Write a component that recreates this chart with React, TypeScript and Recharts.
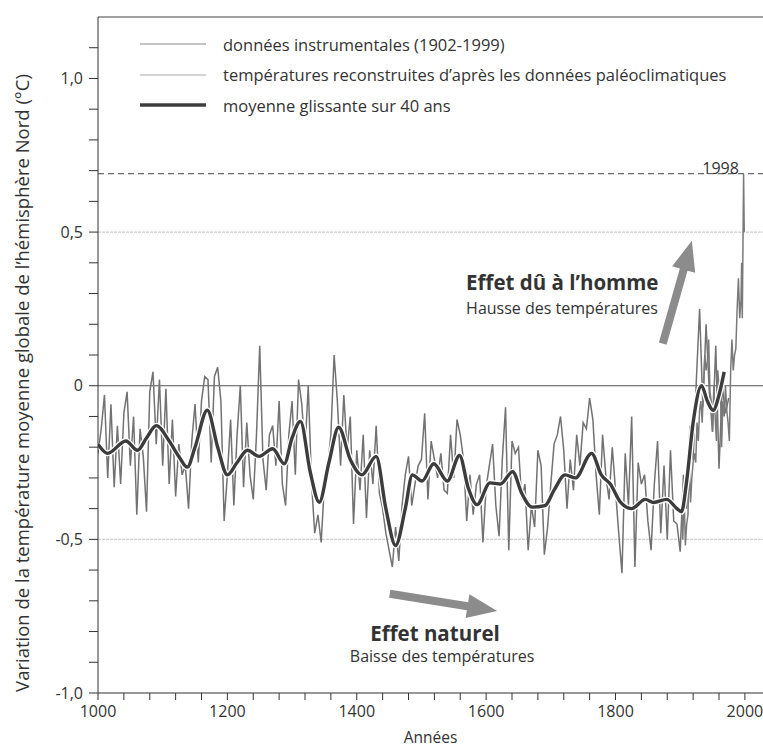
import { LineChart, Line, XAxis, YAxis, ReferenceLine, ReferenceDot } from 'recharts'

// reconstructed temperatures, one reading every 5 years from 1000
const reconStart = 1000
const reconStep = 5
const reconValues = [
	-0.22, -0.14, -0.03, -0.3, -0.06, -0.33, -0.13, -0.32, -0.09, -0.02,
	-0.26, -0.1, -0.42, -0.14, -0.23, -0.41, -0.02, 0.045, -0.19, 0.02,
	-0.26, -0.01, -0.32, -0.11, -0.36, -0.19, -0.29, -0.26, -0.4, -0.18,
	-0.06, -0.25, -0.05, 0.03, 0.02, -0.25, 0.03, 0.06, -0.05, -0.44,
	-0.29, -0.11, -0.39, -0.16, 0.0, -0.33, -0.12, -0.29, -0.37, -0.16,
	0.13, -0.24, -0.34, -0.16, -0.13, -0.26, -0.05, -0.32, -0.39, -0.16,
	-0.05, -0.29, 0.02, -0.06, -0.21, 0.0, -0.31, -0.48, -0.42, -0.51,
	-0.32, -0.26, -0.16, 0.1, -0.05, -0.26, -0.03, -0.21, -0.1, -0.45,
	-0.21, -0.34, -0.16, -0.43, -0.21, -0.32, -0.13, -0.35, -0.4, -0.48,
	-0.535, -0.59, -0.46, -0.57, -0.39, -0.29, -0.23, -0.39, -0.32, -0.26,
	-0.24, -0.09, -0.37, -0.18, -0.24, -0.3, -0.22, -0.34, -0.35, -0.16,
	-0.3, -0.11, -0.16, -0.24, -0.44, -0.29, -0.42, -0.32, -0.29, -0.51,
	-0.33, -0.26, -0.19, -0.39, -0.49, -0.24, -0.07, -0.535, -0.18, -0.22,
	-0.2, -0.37, -0.32, -0.535, -0.39, -0.46, -0.21, -0.26, -0.55, -0.46,
	-0.32, -0.19, -0.16, -0.1, -0.21, -0.4, -0.24, -0.34, -0.16, -0.26,
	-0.12, -0.14, -0.04, -0.11, -0.29, -0.42, -0.16, -0.29, -0.37, -0.2,
	-0.34, -0.48, -0.61, -0.22, -0.39, -0.1, -0.59, -0.25, -0.32, -0.29,
	-0.44, -0.535, -0.32, -0.18, -0.48, -0.26, -0.5, -0.21, -0.44, -0.45,
	-0.54, -0.29, -0.4, -0.13, -0.24, 0.02, 0.25, -0.07, 0.2, -0.02,
	-0.15, 0.13, -0.27, 0.0, -0.09, -0.04,
]

// instrumental record 1902-1999
const instrYears = [
	1902, 1904, 1906, 1908, 1910, 1912, 1914, 1916, 1918, 1920,
	1922, 1924, 1926, 1928, 1930, 1932, 1934, 1936, 1938, 1940,
	1942, 1944, 1946, 1948, 1950, 1952, 1954, 1956, 1958, 1960,
	1962, 1964, 1966, 1968, 1970, 1972, 1974, 1976, 1978, 1980,
	1982, 1984, 1986, 1988, 1990, 1992, 1994, 1995, 1996, 1997,
	1998, 1999,
]
const instrValues = [
	-0.4, -0.5, -0.35, -0.52, -0.45, -0.42, -0.25, -0.38, -0.3, -0.25,
	-0.22, -0.25, -0.12, -0.18, -0.08, -0.05, -0.12, 0.0, 0.1, 0.05,
	0.08, 0.15, -0.02, -0.05, -0.15, 0.0, -0.1, -0.18, 0.05, 0.0,
	0.02, -0.2, -0.05, -0.1, 0.0, -0.08, -0.12, -0.18, 0.05, 0.15,
	0.05, 0.1, 0.12, 0.25, 0.35, 0.22, 0.28, 0.4, 0.22, 0.45,
	0.69, 0.5,
]

// 40-year running mean
const smoothYears = [
	1000, 1015, 1043, 1061, 1075, 1090, 1110, 1125, 1138, 1150,
	1169, 1185, 1200, 1215, 1231, 1249, 1270, 1288, 1300, 1313,
	1328, 1342, 1357, 1372, 1390, 1408, 1430, 1445, 1460, 1475,
	1486, 1501, 1519, 1540, 1559, 1572, 1586, 1606, 1622, 1641,
	1655, 1671, 1691, 1705, 1722, 1738, 1763, 1778, 1792, 1808,
	1825, 1846, 1859, 1879, 1895, 1902, 1910, 1920, 1933, 1942,
	1951, 1960, 1968,
]
const smoothValues = [
	-0.19, -0.22, -0.18, -0.21, -0.17, -0.13, -0.18, -0.23, -0.265, -0.2,
	-0.08, -0.2, -0.29, -0.25, -0.21, -0.23, -0.205, -0.254, -0.17, -0.116,
	-0.28, -0.379, -0.25, -0.135, -0.24, -0.29, -0.23, -0.4, -0.52, -0.4,
	-0.29, -0.31, -0.254, -0.31, -0.227, -0.33, -0.387, -0.316, -0.32, -0.28,
	-0.35, -0.395, -0.39, -0.34, -0.29, -0.3, -0.22, -0.29, -0.32, -0.38,
	-0.4, -0.37, -0.38, -0.37, -0.4, -0.41, -0.31, -0.12, 0.0, -0.05,
	-0.08, -0.03, 0.045,
]

const xTicks = [
	1000, 1040, 1080, 1120, 1160, 1200, 1240, 1280, 1320, 1360, 1400,
	1440, 1480, 1520, 1560, 1600, 1640, 1680, 1720, 1760, 1800, 1840,
	1880, 1920, 1960, 2000,
]
const xLabelled = [1000, 1200, 1400, 1600, 1800, 2000]
const yTicks = [
	-1, -0.9, -0.8, -0.7, -0.6, -0.5, -0.4, -0.3, -0.2, -0.1, 0,
	0.1, 0.2, 0.3, 0.4, 0.5, 0.6, 0.7, 0.8, 0.9, 1, 1.1,
]
const yLabelled = [-1, -0.5, 0, 0.5, 1]
const record1998 = 0.69

const legendItems = [
	{ label: 'données instrumentales (1902-1999)', color: '#8a8a8a', width: 1.2 },
	{ label: 'températures reconstruites d’après les données paléoclimatiques', color: '#a8a8a8', width: 1.2 },
	{ label: 'moyenne glissante sur 40 ans', color: '#3c3c3c', width: 3.5 },
]

const reconData = reconValues.map((v, i) => ({ year: reconStart + i * reconStep, v }))
const instrData = instrYears.map((year, i) => ({ year, v: instrValues[i] }))
const smoothData = smoothYears.map((year, i) => ({ year, v: smoothValues[i] }))

const font = "'Open Sans', sans-serif"
const ink = '#333'
const arrowGrey = '#8c8c8c'

function formatY(v: number) {
	const r = Math.round(v * 10) / 10
	if (!yLabelled.some((t) => Math.abs(t - r) < 1e-6)) return ''
	if (r === 0) return '0'
	return r.toFixed(1).replace('.', ',')
}

function formatX(v: number) {
	return xLabelled.includes(v) ? String(v) : ''
}

function Arrow(props: any) {
	const { x1, y1, x2, y2 } = props
	const dx = x2 - x1
	const dy = y2 - y1
	const len = Math.sqrt(dx * dx + dy * dy)
	const ux = dx / len
	const uy = dy / len
	const nx = -uy
	const ny = ux
	const head = 30
	const hw = 12
	const sw = 4
	const bx = x2 - ux * head
	const by = y2 - uy * head
	const pts = [
		[x1 + nx * sw, y1 + ny * sw],
		[bx + nx * sw, by + ny * sw],
		[bx + nx * hw, by + ny * hw],
		[x2, y2],
		[bx - nx * hw, by - ny * hw],
		[bx - nx * sw, by - ny * sw],
		[x1 - nx * sw, y1 - ny * sw],
	]
	return <polygon points={pts.map((p) => p.join(',')).join(' ')} fill={arrowGrey} />
}

function textAt(text: string, opts: { size: number; bold?: boolean; anchor?: string; dx?: number }) {
	return (props: any) => (
		<text
			x={props.cx + (opts.dx ?? 0)}
			y={props.cy}
			fontFamily={font}
			fontSize={opts.size}
			fontWeight={opts.bold ? 700 : 400}
			fill={ink}
			textAnchor={opts.anchor ?? 'start'}
		>
			{text}
		</text>
	)
}

// legend sits over the chart, outside recharts so it doesn't shrink the plot
function LegendBox() {
	return (
		<div style={{ position: 'absolute', left: 140, top: 29, fontFamily: font, fontSize: 16.5, color: ink }}>
			{legendItems.map((item) => (
				<div key={item.label} style={{ display: 'flex', alignItems: 'center', height: 30.5 }}>
					<svg width={66} height={8} style={{ marginRight: 17 }}>
						<line x1={0} y1={4} x2={66} y2={4} stroke={item.color} strokeWidth={item.width} />
					</svg>
					<span style={{ whiteSpace: 'nowrap' }}>{item.label}</span>
				</div>
			))}
		</div>
	)
}

function YTitle(props: any) {
	const vb = props.viewBox
	const x = vb.x + 21
	const y = vb.y + vb.height / 2 + 28
	return (
		<text
			x={x}
			y={y}
			transform={`rotate(-90 ${x} ${y})`}
			textAnchor='middle'
			dominantBaseline='central'
			fontFamily={font}
			fontSize={18.5}
			fill={ink}
		>
			Variation de la température moyenne globale de l’hémisphère Nord (°C)
		</text>
	)
}

export default function App() {
	return (
		<div style={{ position: 'absolute', left: 0, top: 0, width: 763, height: 749, background: '#fff' }}>
			<LineChart width={763} height={749} margin={{ top: 17, right: 0, bottom: 0, left: 0 }}>
				<XAxis
					type='number'
					dataKey='year'
					domain={[1000, 2028]}
					allowDataOverflow
					ticks={xTicks}
					interval={0}
					tickFormatter={formatX}
					height={56}
					tickSize={7}
					tickMargin={6}
					stroke='#333'
					tick={{ fill: ink, fontSize: 16, fontFamily: font }}
					label={{ value: 'Années', position: 'insideBottom', offset: 6, fill: ink, fontSize: 15.5, fontFamily: font }}
				/>
				<YAxis
					type='number'
					domain={[-1, 1.2]}
					allowDataOverflow
					ticks={yTicks}
					interval={0}
					tickFormatter={formatY}
					width={98}
					tickSize={9}
					tickMargin={6}
					stroke='#333'
					tick={{ fill: ink, fontSize: 16, fontFamily: font }}
					label={{ content: YTitle }}
				/>
				<ReferenceLine y={1.2} stroke='#444' strokeWidth={1.2} />
				<ReferenceLine y={0.5} stroke='#cdcdcd' strokeWidth={1.4} strokeDasharray='3 1' />
				<ReferenceLine y={-0.5} stroke='#cdcdcd' strokeWidth={1.4} strokeDasharray='3 1' />
				<ReferenceLine y={0} stroke='#555' strokeWidth={1.2} />
				<ReferenceLine y={record1998} stroke='#444' strokeWidth={1} strokeDasharray='6 4' />
				<Line
					data={reconData}
					dataKey='v'
					type='linear'
					stroke='#727272'
					strokeWidth={1.5}
					dot={false}
					isAnimationActive={false}
					legendType='none'
				/>
				<Line
					data={instrData}
					dataKey='v'
					type='linear'
					stroke='#7a7a7a'
					strokeWidth={1.5}
					dot={false}
					isAnimationActive={false}
					legendType='none'
				/>
				<Line
					data={smoothData}
					dataKey='v'
					type='monotone'
					stroke='#ffffff'
					strokeWidth={6}
					dot={false}
					isAnimationActive={false}
					legendType='none'
				/>
				<Line
					data={smoothData}
					dataKey='v'
					type='monotone'
					stroke='#3c3c3c'
					strokeWidth={3.4}
					dot={false}
					isAnimationActive={false}
					legendType='none'
				/>
				<ReferenceLine
					segment={[{ x: 1873, y: 0.137 }, { x: 1918, y: 0.472 }]}
					shape={Arrow}
				/>
				<ReferenceLine
					segment={[{ x: 1451, y: -0.677 }, { x: 1617, y: -0.733 }]}
					shape={Arrow}
				/>
				<ReferenceDot x={1998} y={record1998} r={0} shape={textAt('1998', { size: 16, anchor: 'middle', dx: -23 })} />
				<ReferenceDot x={1569} y={0.31} r={0} shape={textAt('Effet dû à l’homme', { size: 20.5, bold: true })} />
				<ReferenceDot x={1569} y={0.235} r={0} shape={textAt('Hausse des températures', { size: 16 })} />
				<ReferenceDot x={1521} y={-0.83} r={0} shape={textAt('Effet naturel', { size: 20.5, bold: true, anchor: 'middle' })} />
				<ReferenceDot x={1532} y={-0.9} r={0} shape={textAt('Baisse des températures', { size: 16, anchor: 'middle' })} />
			</LineChart>
			<LegendBox />
		</div>
	)
}
